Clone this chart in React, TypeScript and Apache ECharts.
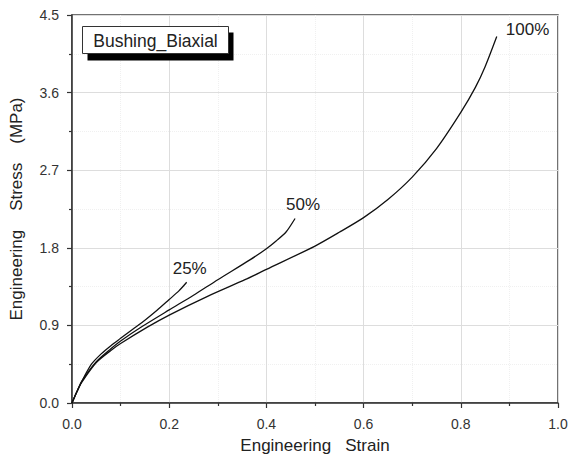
import React, { useEffect, useRef } from "react";
import * as echarts from "echarts";

const strain25 = [0, 0.01, 0.02, 0.04, 0.06, 0.08, 0.1, 0.125, 0.15, 0.175, 0.2, 0.22, 0.236];
const stress25 = [0, 0.13, 0.25, 0.45, 0.57, 0.665, 0.75, 0.855, 0.96, 1.075, 1.2, 1.3, 1.4];

const strain50 = [0, 0.01, 0.02, 0.05, 0.08, 0.1, 0.145, 0.2, 0.25, 0.3, 0.366, 0.4, 0.42, 0.44, 0.459];
const stress50 = [0, 0.13, 0.25, 0.48, 0.63, 0.72, 0.89, 1.08, 1.25, 1.43, 1.66, 1.79, 1.88, 1.98, 2.14];

const strain100 = [0, 0.01, 0.02, 0.05, 0.08, 0.1, 0.155, 0.2, 0.28, 0.356, 0.4, 0.5, 0.55, 0.6, 0.65, 0.7, 0.75, 0.8, 0.83, 0.85, 0.874];
const stress100 = [0, 0.13, 0.24, 0.47, 0.61, 0.69, 0.88, 1.02, 1.24, 1.43, 1.55, 1.82, 1.98, 2.15, 2.36, 2.62, 2.95, 3.37, 3.66, 3.9, 4.25];

const seriesNames = ["25%", "50%", "100%"];
const xTicks = { min: 0, max: 1.0, interval: 0.2 };
const yTicks = { min: 0, max: 4.5, interval: 0.9 };

const FONT = "'Liberation Sans', Arial, sans-serif";

function pairs(xs: number[], ys: number[]) {
  return xs.map((x, i) => [x, ys[i]]);
}

export default function App() {
  const ref = useRef<HTMLDivElement>(null);
  useEffect(() => {
    document.body.style.margin = "0";
    const chart = echarts.init(ref.current!, null, { renderer: "svg" });
    const mkSeries = (name: string, data: number[][], offset: number[]) => ({
      name,
      type: "line",
      data,
      showSymbol: false,
      symbol: "none",
      smooth: 0.25,
      lineStyle: { color: "#111", width: 1.3 },
      endLabel: {
        show: true,
        formatter: name,
        offset,
        fontFamily: FONT,
        fontSize: 17,
        color: "#222",
      },
      z: 3,
    });
    const axisCommon = {
      axisLine: { show: true, onZero: false, lineStyle: { color: "#333", width: 1.5 } },
      axisTick: { show: true, inside: false, length: 5, lineStyle: { color: "#333", width: 1.2 } },
      minorTick: { show: true, splitNumber: 2, length: 3, lineStyle: { color: "#333", width: 1.2 } },
      splitLine: { show: true, lineStyle: { color: "#dddddd", width: 1 } },
      minorSplitLine: { show: true, lineStyle: { color: "#f0f0f0", width: 1, type: "dotted" } },
      axisLabel: { fontFamily: FONT, fontSize: 14, color: "#333" },
      nameTextStyle: { fontFamily: FONT, fontSize: 17, color: "#222" },
    };
    chart.setOption({
      animation: false,
      backgroundColor: "#ffffff",
      grid: {
        left: 72,
        top: 15,
        right: 10,
        bottom: 64,
        containLabel: false,
        outerBoundsMode: "none",
        show: true,
        borderColor: "#444",
        borderWidth: 1.5,
        backgroundColor: "transparent",
      },
      xAxis: {
        type: "value",
        ...xTicks,
        ...axisCommon,
        name: "Engineering   Strain",
        nameLocation: "middle",
        nameGap: 34,
        axisLabel: {
          ...axisCommon.axisLabel,
          margin: 14,
          formatter: (v: number) => v.toFixed(1),
        },
      },
      yAxis: {
        type: "value",
        ...yTicks,
        ...axisCommon,
        name: "Engineering    Stress    (MPa)",
        nameLocation: "middle",
        nameGap: 47,
        axisLabel: {
          ...axisCommon.axisLabel,
          margin: 13,
          formatter: (v: number) => v.toFixed(1),
        },
      },
      series: [
        mkSeries(seriesNames[0], pairs(strain25, stress25), [-22, -14]),
        mkSeries(seriesNames[1], pairs(strain50, stress50), [-17, -14]),
        mkSeries(seriesNames[2], pairs(strain100, stress100), [1, -7]),
      ],
      graphic: [
        {
          type: "group",
          left: 82,
          top: 26,
          z: 100,
          children: [
            { type: "rect", z: 100, shape: { x: 5, y: 6, width: 146, height: 28 }, style: { fill: "#000" } },
            { type: "rect", z: 101, shape: { x: 0, y: 0, width: 146, height: 27 }, style: { fill: "#fff", stroke: "#333", lineWidth: 1 } },
            {
              type: "text",
              z: 102,
              x: 73,
              y: 14,
              style: {
                text: "Bushing_Biaxial",
                fontFamily: FONT,
                fontSize: 17.5,
                fill: "#222",
                align: "center",
                verticalAlign: "middle",
              },
            },
          ],
        },
      ],
    });
    return () => chart.dispose();
  }, []);
  return <div ref={ref} style={{ width: 568, height: 467 }} />;
}
